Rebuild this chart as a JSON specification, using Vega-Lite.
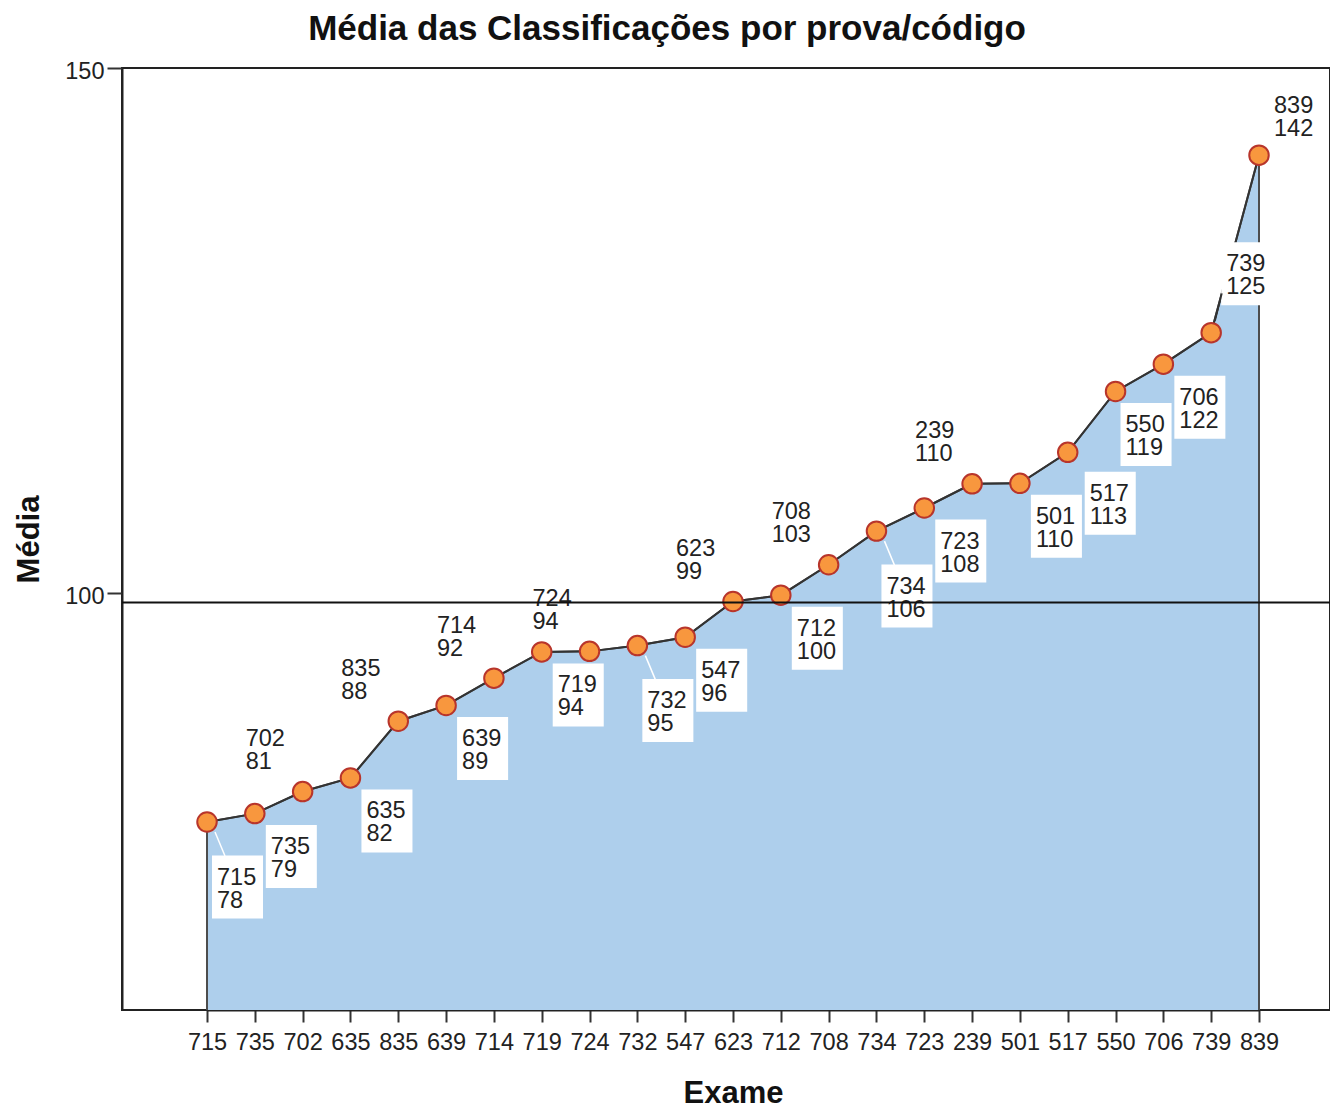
{
  "$schema": "https://vega.github.io/schema/vega-lite/v6.json",
  "width": 1208,
  "height": 942,
  "autosize": {"type": "none"},
  "padding": {"left": 122, "top": 68, "right": 0, "bottom": 98},
  "background": "white",
  "config": {"view": {"stroke": "#222222", "strokeWidth": 2}, "font": "Liberation Sans"},
  "title": {"text": "Média das Classificações por prova/código", "font": "Liberation Sans", "fontSize": 35, "fontWeight": "bold", "color": "#111111", "anchor": "middle", "dx": -59, "dy": 42, "baseline": "alphabetic", "offset": 26},
  "data": {"values": [
    {"exame": "715", "media": 78.2},
    {"exame": "735", "media": 79.0},
    {"exame": "702", "media": 81.1},
    {"exame": "635", "media": 82.4},
    {"exame": "835", "media": 87.8},
    {"exame": "639", "media": 89.3},
    {"exame": "714", "media": 91.9},
    {"exame": "719", "media": 94.4},
    {"exame": "724", "media": 94.45},
    {"exame": "732", "media": 95.0},
    {"exame": "547", "media": 95.8},
    {"exame": "623", "media": 99.2},
    {"exame": "712", "media": 99.8},
    {"exame": "708", "media": 102.7},
    {"exame": "734", "media": 105.9},
    {"exame": "723", "media": 108.1},
    {"exame": "239", "media": 110.4},
    {"exame": "501", "media": 110.45},
    {"exame": "517", "media": 113.4},
    {"exame": "550", "media": 119.2},
    {"exame": "706", "media": 121.8},
    {"exame": "739", "media": 124.8},
    {"exame": "839", "media": 141.7}
  ]},
  "layer": [
    {
      "encoding": {
        "x": {"field": "exame", "type": "nominal", "sort": null,
          "scale": {"type": "point", "padding": 0, "range": [85, 1137]},
          "axis": {"title": "Exame", "titleFont": "Liberation Sans", "titleFontSize": 31, "titleFontWeight": "bold", "titleColor": "#111111", "titleX": 611, "titleY": 92, "titleBaseline": "alphabetic",
            "labelAngle": 0, "labelFont": "Liberation Sans", "labelFontSize": 23.5, "labelColor": "#222222", "labelPadding": 8,
            "tickSize": 12, "tickWidth": 2, "tickColor": "#333333", "domainColor": "#222222", "domainWidth": 2, "grid": false}},
        "y": {"field": "media", "type": "quantitative",
          "scale": {"domain": [60.3, 150], "zero": false, "nice": false},
          "axis": {"title": "Média", "values": [100, 150], "titleFont": "Liberation Sans", "titleFontSize": 31, "titleFontWeight": "bold", "titleColor": "#111111", "titleX": -84, "titleY": 471, "titleAngle": 270, "titleBaseline": "alphabetic", "titleAlign": "center",
            "labelFont": "Liberation Sans", "labelFontSize": 23.5, "labelColor": "#222222", "labelPadding": 3, "labelBaseline": "middle", "labelOffset": 3,
            "tickSize": 15, "tickWidth": 2, "tickColor": "#333333", "domainColor": "#222222", "domainWidth": 2, "grid": false}}
      },
      "layer": [
        {"mark": {"type": "area", "clip": true, "fill": "#aecfec", "fillOpacity": 1, "stroke": "#4d4d4d", "strokeWidth": 2}},
        {"mark": {"type": "line", "color": "#333333", "strokeWidth": 2}},
        {
          "transform": [{"filter": {"field": "exame", "oneOf": ["735", "635", "639", "719", "547", "712", "723", "501", "706"]}}],
          "layer": [
            {"mark": {"type": "point", "shape": "M-0.81,-1H0.81V1H-0.81Z", "size": 3969, "filled": true, "fill": "white", "strokeWidth": 0, "opacity": 1, "xOffset": 36.5, "yOffset": 43}},
            {"mark": {"type": "text", "align": "left", "baseline": "alphabetic", "dx": 16, "dy": 40.5, "fontSize": 23.5, "color": "#222222"}, "encoding": {"text": {"field": "exame"}}},
            {"mark": {"type": "text", "align": "left", "baseline": "alphabetic", "dx": 16, "dy": 63.5, "fontSize": 23.5, "color": "#222222"}, "encoding": {"text": {"field": "media", "type": "quantitative", "format": ".0f"}}}
          ]
        },
        {
          "transform": [{"filter": {"field": "exame", "oneOf": ["550"]}}],
          "layer": [
            {"mark": {"type": "point", "shape": "M-0.81,-1H0.81V1H-0.81Z", "size": 3969, "filled": true, "fill": "white", "strokeWidth": 0, "opacity": 1, "xOffset": 30.5, "yOffset": 43}},
            {"mark": {"type": "text", "align": "left", "baseline": "alphabetic", "dx": 10, "dy": 40.5, "fontSize": 23.5, "color": "#222222"}, "encoding": {"text": {"field": "exame"}}},
            {"mark": {"type": "text", "align": "left", "baseline": "alphabetic", "dx": 10, "dy": 63.5, "fontSize": 23.5, "color": "#222222"}, "encoding": {"text": {"field": "media", "type": "quantitative", "format": ".0f"}}}
          ]
        },
        {
          "transform": [{"filter": {"field": "exame", "oneOf": ["517"]}}],
          "layer": [
            {"mark": {"type": "point", "shape": "M-0.81,-1H0.81V1H-0.81Z", "size": 3969, "filled": true, "fill": "white", "strokeWidth": 0, "opacity": 1, "xOffset": 42.5, "yOffset": 51}},
            {"mark": {"type": "text", "align": "left", "baseline": "alphabetic", "dx": 22, "dy": 48.5, "fontSize": 23.5, "color": "#222222"}, "encoding": {"text": {"field": "exame"}}},
            {"mark": {"type": "text", "align": "left", "baseline": "alphabetic", "dx": 22, "dy": 71.5, "fontSize": 23.5, "color": "#222222"}, "encoding": {"text": {"field": "media", "type": "quantitative", "format": ".0f"}}}
          ]
        },
        {
          "transform": [{"filter": {"field": "exame", "oneOf": ["715", "732", "734"]}}],
          "layer": [
            {"mark": {"type": "point", "shape": "M0.2,0.25L0.45,0.85", "size": 6400, "filled": false, "stroke": "white", "strokeWidth": 1.5, "opacity": 1}},
            {"mark": {"type": "point", "shape": "M-0.81,-1H0.81V1H-0.81Z", "size": 3969, "filled": true, "fill": "white", "strokeWidth": 0, "opacity": 1, "xOffset": 30.5, "yOffset": 65}},
            {"mark": {"type": "text", "align": "left", "baseline": "alphabetic", "dx": 10, "dy": 62.5, "fontSize": 23.5, "color": "#222222"}, "encoding": {"text": {"field": "exame"}}},
            {"mark": {"type": "text", "align": "left", "baseline": "alphabetic", "dx": 10, "dy": 85.5, "fontSize": 23.5, "color": "#222222"}, "encoding": {"text": {"field": "media", "type": "quantitative", "format": ".0f"}}}
          ]
        },
        {
          "transform": [{"filter": {"field": "exame", "oneOf": ["702", "835", "714", "724", "623", "708", "239"]}}],
          "layer": [
            {"mark": {"type": "point", "shape": "M-0.81,-1H0.81V1H-0.81Z", "size": 3969, "filled": true, "fill": "white", "strokeWidth": 0, "opacity": 1, "xOffset": -36.5, "yOffset": -43}},
            {"mark": {"type": "text", "align": "left", "baseline": "alphabetic", "dx": -57, "dy": -45.5, "fontSize": 23.5, "color": "#222222"}, "encoding": {"text": {"field": "exame"}}},
            {"mark": {"type": "text", "align": "left", "baseline": "alphabetic", "dx": -57, "dy": -22.5, "fontSize": 23.5, "color": "#222222"}, "encoding": {"text": {"field": "media", "type": "quantitative", "format": ".0f"}}}
          ]
        },
        {
          "transform": [{"filter": {"field": "exame", "oneOf": ["839"]}}],
          "layer": [
            {"mark": {"type": "text", "align": "left", "baseline": "alphabetic", "dx": 15, "dy": -42, "fontSize": 23.5, "color": "#222222"}, "encoding": {"text": {"field": "exame"}}},
            {"mark": {"type": "text", "align": "left", "baseline": "alphabetic", "dx": 15, "dy": -19, "fontSize": 23.5, "color": "#222222"}, "encoding": {"text": {"field": "media", "type": "quantitative", "format": ".0f"}}}
          ]
        },
        {
          "transform": [{"filter": {"field": "exame", "oneOf": ["739"]}}],
          "layer": [
            {"mark": {"type": "point", "shape": "M-0.81,-1H0.81V1H-0.81Z", "size": 3969, "filled": true, "fill": "white", "strokeWidth": 0, "opacity": 1, "xOffset": 35.5, "yOffset": -59}},
            {"mark": {"type": "point", "shape": "M0.1,-0.3L0.27,-0.98", "size": 6400, "filled": false, "stroke": "#333333", "strokeWidth": 1.5, "opacity": 1}},
            {"mark": {"type": "text", "align": "left", "baseline": "alphabetic", "dx": 15, "dy": -61.5, "fontSize": 23.5, "color": "#222222"}, "encoding": {"text": {"field": "exame"}}},
            {"mark": {"type": "text", "align": "left", "baseline": "alphabetic", "dx": 15, "dy": -38.5, "fontSize": 23.5, "color": "#222222"}, "encoding": {"text": {"field": "media", "type": "quantitative", "format": ".0f"}}}
          ]
        },
        {"mark": {"type": "point", "shape": "circle", "filled": true, "fill": "#f8973e", "stroke": "#b8352b", "strokeWidth": 2, "size": 380, "opacity": 1}}
      ]
    },
    {
      "data": {"values": [{}]},
      "mark": {"type": "rule", "color": "#111111", "strokeWidth": 2},
      "encoding": {"y": {"datum": 99.1}}
    }
  ]
}
